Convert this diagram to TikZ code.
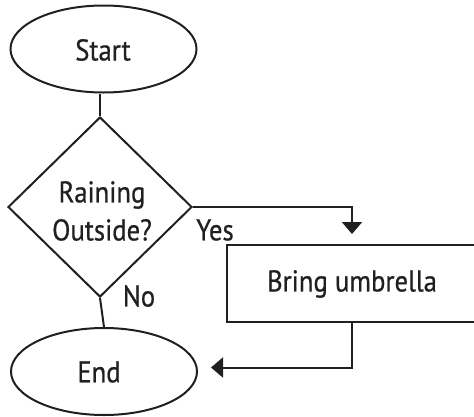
\documentclass[tikz,border=0pt]{standalone}
\usepackage{fontspec}
\setmainfont[FakeStretch=0.89,FakeBold=0.6]{PT Sans}
\usetikzlibrary{shapes.geometric,arrows.meta}
\definecolor{ink}{HTML}{231F20}
\tikzset{
  x=1pt, y=-1pt,
  line/.style={draw=ink, line width=2pt},
  flow/.style={line, -{Triangle[width=20pt,length=12pt]}},
  term/.style={ellipse, line, inner sep=0pt, minimum width=186pt, minimum height=87pt},
  decide/.style={diamond, line, inner sep=0pt, minimum width=184pt, minimum height=180pt},
  proc/.style={rectangle, line, inner sep=0pt, minimum width=250pt, minimum height=77pt},
  lbl/.style={text=ink, font=\fontsize{30}{38}\selectfont, align=center},
}
\begin{document}
\begin{tikzpicture}
\useasboundingbox (0,0) rectangle (474,416);
\clip (0,0) rectangle (474,416);
\node[term] (start) at (103.5,49) {};
\node[lbl] (starttxt) at (103,50) {Start};
\node[decide] (dec) at (100,207) {};
\node[lbl] (dectxt) at (102,211) {Raining\\Outside?};
\node[proc] (box) at (352,283.5) {};
\node[lbl] (boxtxt) at (352,284) {Bring umbrella};
\node[term] (end) at (104,371.5) {};
\node[lbl] (endtxt) at (99,372) {End};
\node[lbl] (yes) at (215,230) {Yes};
\node[lbl] (no) at (139,296) {No};
\path (box.north) ++(0,-10) coordinate (yesend);
\path (end.east) ++(13,-4) coordinate (endtip);
\draw[line] (dec.north) -- (dec.north |- start.south);
\draw[flow] (dec.east) -| (yesend);
\draw[line] (dec.south) -- (end.north);
\draw[flow] (box.south) |- (endtip);
\end{tikzpicture}
\end{document}
